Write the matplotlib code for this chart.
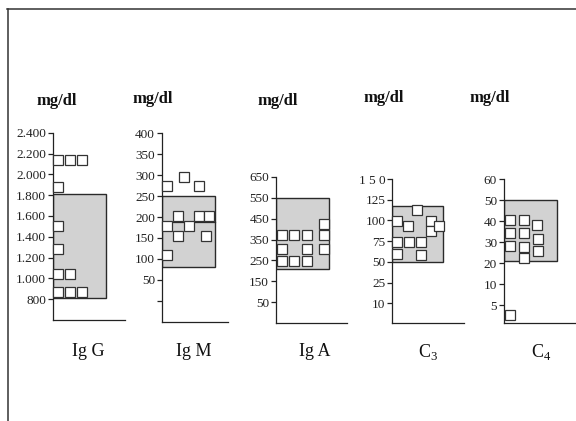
import numpy as np
import matplotlib
matplotlib.use("Agg")
import matplotlib.pyplot as plt
from matplotlib.lines import Line2D
from matplotlib.patches import Rectangle

plt.rcParams['font.family'] = ['Liberation Serif', 'DejaVu Serif']
plt.rcParams['mathtext.fontset'] = 'custom'
plt.rcParams['mathtext.rm'] = 'Liberation Serif'

# panel names / units
panels = ['Ig G', 'Ig M', 'Ig A', r'C$_{3}$', r'C$_{4}$']
unit = 'mg/dl'

# tick values (bottom -> top) and their labels
igg_ticks = [800, 1000, 1200, 1400, 1600, 1800, 2000, 2200, 2400]
igg_labels = ['800', '1.000', '1.200', '1.400', '1.600', '1.800', '2.000', '2.200', '2.400']
igm_ticks = [0, 50, 100, 150, 200, 250, 300, 350, 400]
igm_labels = ['', '50', '100', '150', '200', '250', '300', '350', '400']
iga_ticks = [50, 150, 250, 350, 450, 550, 650]
iga_labels = ['50', '150', '250', '350', '450', '550', '650']
c3_ticks = [10, 25, 50, 75, 100, 125, 150]
c3_labels = ['10', '25', '50', '75', '100', '125', '1 5 0']
c4_ticks = [5, 10, 20, 30, 40, 50, 60]
c4_labels = ['5', '10', '20', '30', '40', '50', '60']

# axis floor value (bottom of axis) and its position in tick steps
floors = [(600, -1.0), (-50, -1.0), (-50, -1.0), (0, -0.94), (0, -0.85)]

# normal ranges (shaded boxes)
normal_lo = [810, 80, 210, 50, 21]
normal_hi = [1815, 250, 550, 118, 50]
igm_mean = 188

# patient values: column slot and value
igg_x = [0.42, 1.42, 2.42, 0.42, 0.42, 0.42, 0.42, 1.42, 0.42, 1.42, 2.42]
igg_y = [2140, 2140, 2140, 1880, 1500, 1280, 1040, 1040, 872, 872, 872]
igm_x = [0.44, 1.83, 3.1, 1.36, 3.1, 3.94, 0.44, 2.25, 1.36, 3.67, 0.44]
igm_y = [274, 295, 274, 202, 202, 202, 178, 178, 154, 154, 110]
iga_x = [0.47, 1.5, 2.6, 4.0, 0.47, 2.6, 4.0, 0.47, 1.5, 2.6, 4.0]
iga_y = [370, 370, 370, 370, 305, 305, 305, 246, 246, 246, 422]
c3_x = [2.08, 0.37, 1.33, 3.2, 3.2, 3.89, 0.37, 1.39, 2.37, 0.37, 2.37]
c3_y = [113, 99, 93, 99, 87, 93, 74, 74, 74, 59, 58]
c4_x = [0.5, 1.67, 2.72, 0.5, 1.67, 2.86, 0.5, 1.67, 2.86, 1.67, 0.5]
c4_y = [40.5, 40.5, 38, 34.6, 34.6, 31.5, 28, 27.7, 25.7, 22.3, 2.4]

ticks = [igg_ticks, igm_ticks, iga_ticks, c3_ticks, c4_ticks]
labels = [igg_labels, igm_labels, iga_labels, c3_labels, c4_labels]
xs = [igg_x, igm_x, iga_x, c3_x, c4_x]
ys = [igg_y, igm_y, iga_y, c3_y, c4_y]

W, H = 576, 421
fig = plt.figure(figsize=(W / 100, H / 100), dpi=100)

# pixel layout: axis x, end of base line, axis bottom, top tick
boxes = [(53, 125, 320, 132.7), (162, 228, 321.7, 133.3), (276, 347, 323.3, 176.7),
         (392.3, 464, 322.7, 179), (504, 576, 323.3, 179)]
box_w = [4.4, 4.4, 4.45, 4.2, 4.4]
unit_pos = [(57, 101), (153, 99), (278, 101), (384, 98), (490, 98)]
name_pos = [(88, 352), (194, 352), (315, 352), (428, 352), (541, 352)]
slot = 12.0
ink = '#222222'

for i in range(5):
    x0, x1, yb, yt = boxes[i]
    ax = fig.add_axes([x0 / W, 1 - yb / H, (x1 - x0) / W, (yb - yt) / H])
    fv, fi = floors[i]
    vals = np.array([fv] + ticks[i], dtype=float)
    idx = np.array([fi] + list(range(len(ticks[i]))), dtype=float)
    fwd = lambda v, vals=vals, idx=idx: np.interp(v, vals, idx)
    inv = lambda t, vals=vals, idx=idx: np.interp(t, idx, vals)
    ax.set_yscale('function', functions=(fwd, inv))
    ax.set_ylim(fv, ticks[i][-1])
    ax.set_xlim(0, (x1 - x0) / slot)

    ax.add_patch(Rectangle((0, normal_lo[i]), box_w[i], normal_hi[i] - normal_lo[i],
                           facecolor='#d2d2d2', edgecolor='#2a2a2a', lw=1.0, zorder=1))
    if i == 1:
        ax.plot([0, box_w[i]], [igm_mean, igm_mean], color='#2a2a2a', lw=0.9, zorder=2)
    ax.plot(xs[i], ys[i], 's', ms=7.2, mfc='white', mec='#333333', mew=0.9,
            zorder=3, clip_on=False)

    ax.set_yticks(ticks[i])
    ax.set_yticklabels(labels[i])
    ax.set_xticks([])
    ax.tick_params(axis='y', length=3.5, width=0.9, pad=1.5, labelsize=9.5,
                   colors=ink, labelcolor=ink)
    for s in ['top', 'right']:
        ax.spines[s].set_visible(False)
    for s in ['left', 'bottom']:
        ax.spines[s].set_linewidth(0.9)
        ax.spines[s].set_color(ink)
    ax.patch.set_alpha(0)

    fig.text(unit_pos[i][0] / W, 1 - unit_pos[i][1] / H, unit, ha='center', va='center',
             fontsize=12, fontweight='bold', color='#111111')
    fig.text(name_pos[i][0] / W, 1 - name_pos[i][1] / H, panels[i], ha='center',
             va='center', fontsize=13, color='#111111')

# scanned page frame
fig.add_artist(Line2D([7.5 / W, 7.5 / W], [0, 1 - 8.5 / H], color='#333333', lw=1.1))
fig.add_artist(Line2D([7 / W, 1], [1 - 8.5 / H, 1 - 8.5 / H], color='#333333', lw=1.1))

fig.savefig('out.png', dpi=100)
